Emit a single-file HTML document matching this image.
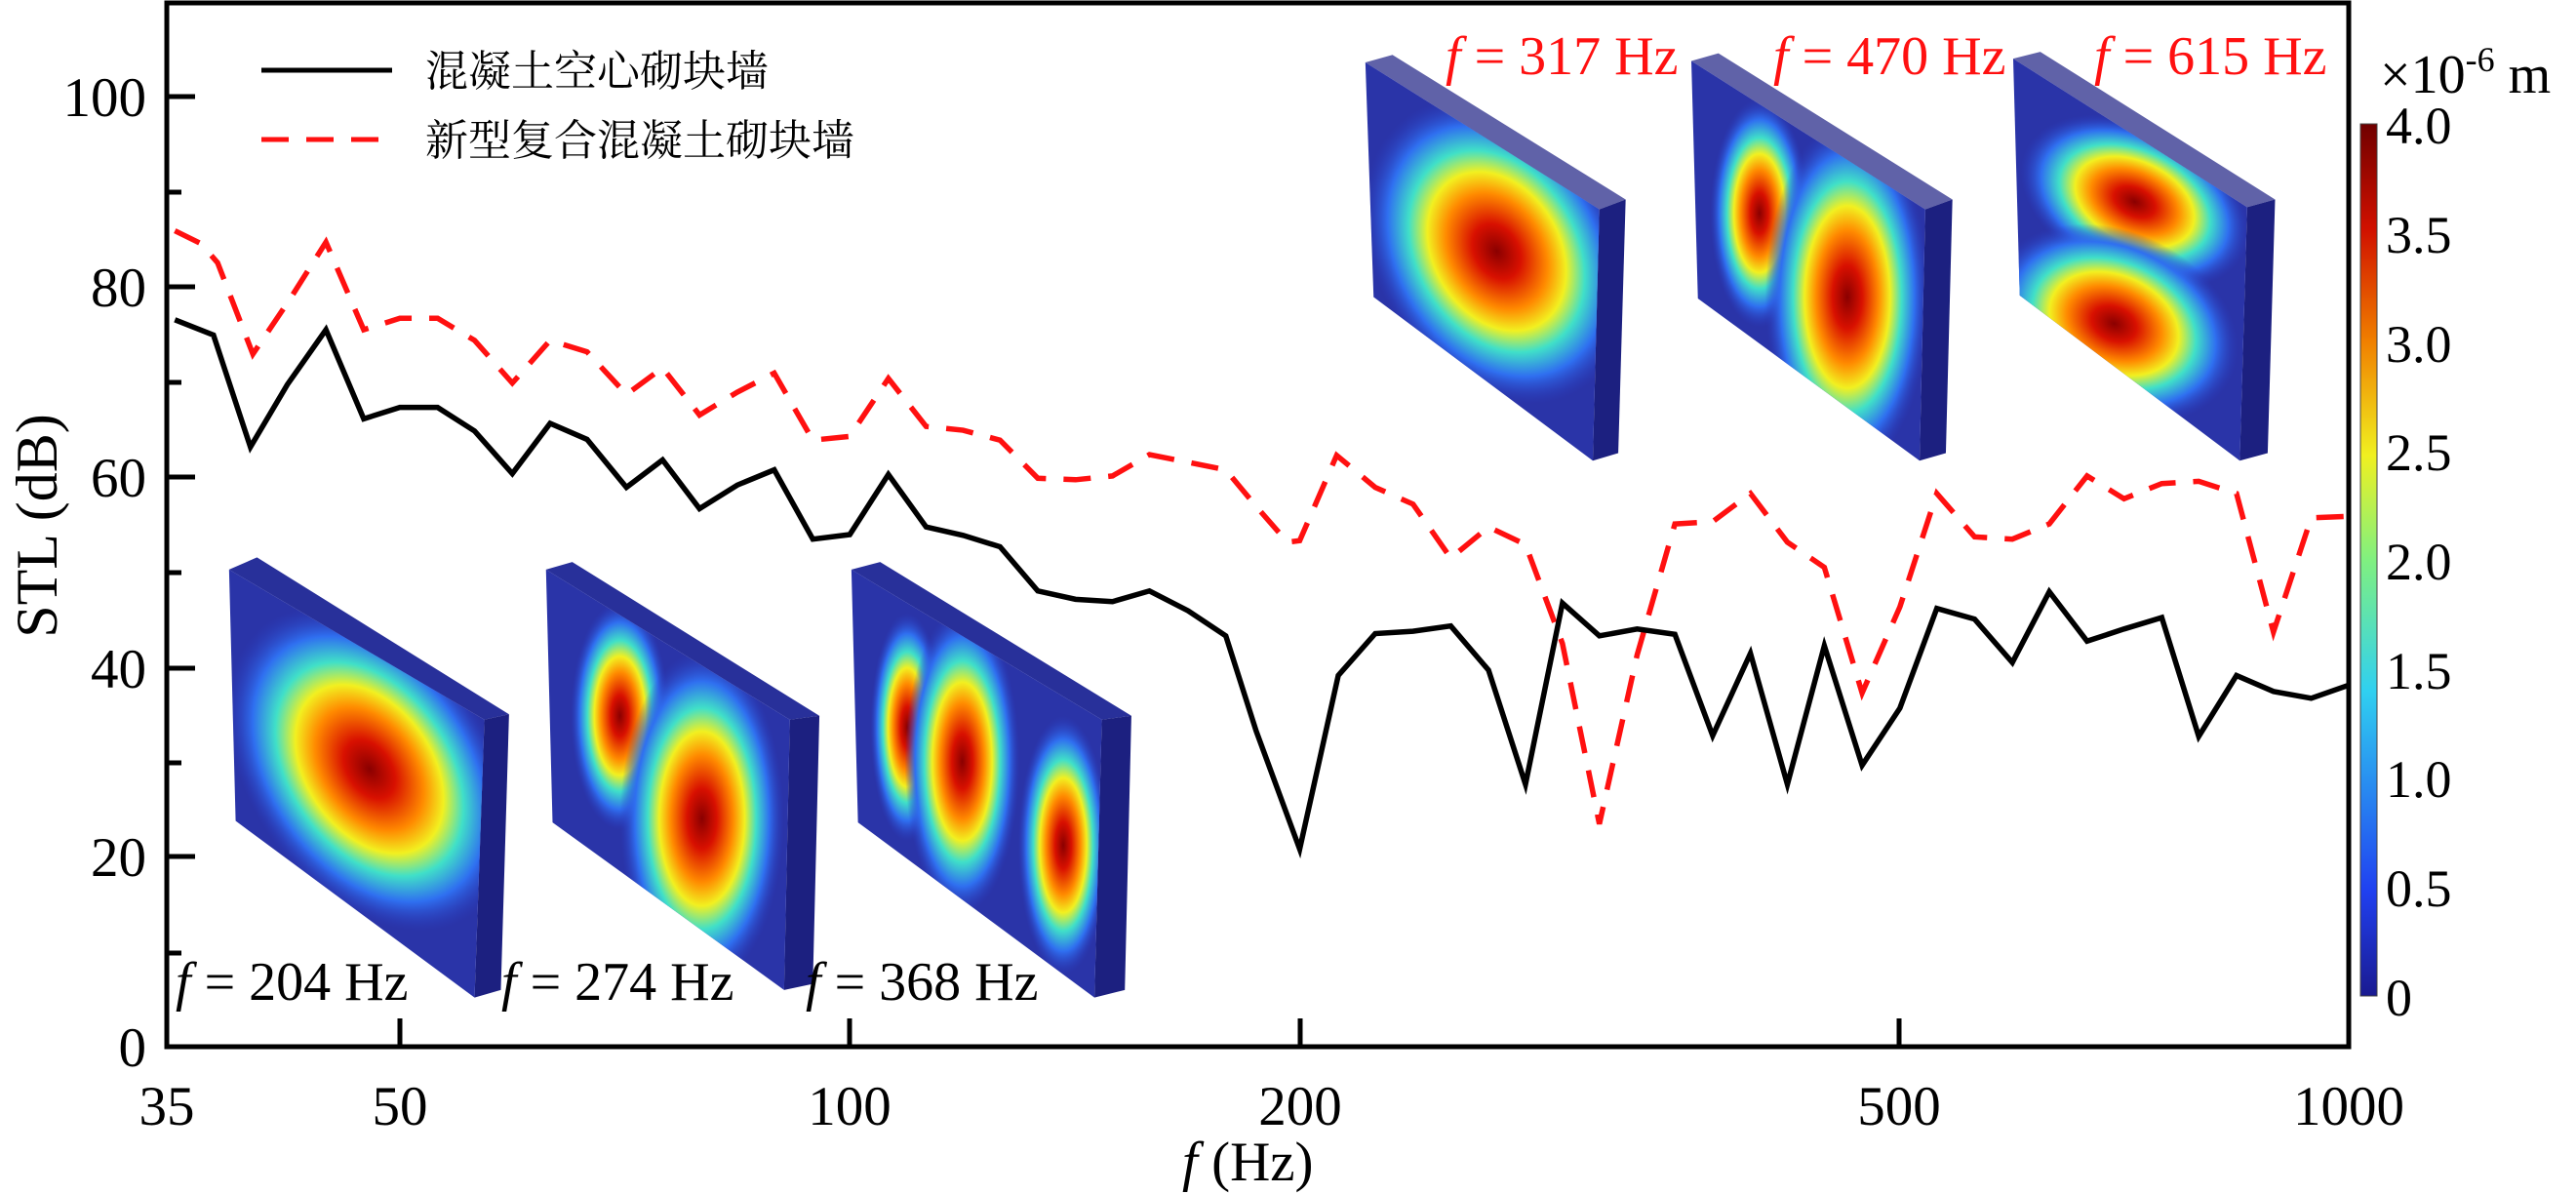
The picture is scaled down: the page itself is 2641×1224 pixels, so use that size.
<!DOCTYPE html>
<html><head><meta charset="utf-8"><style>
html,body{margin:0;padding:0;background:#fff;}
svg{display:block;}
text{font-family:"Liberation Serif","Noto Serif CJK SC",serif;}
.cn{font-family:"Liberation Serif","Noto Serif CJK SC","Noto Sans CJK SC",serif;}
</style></head><body>
<svg width="2641" height="1224" viewBox="0 0 2641 1224" xmlns="http://www.w3.org/2000/svg">
<defs>
<radialGradient id="jet">
<stop offset="0" stop-color="#8a0000"/>
<stop offset="0.18" stop-color="#d81000"/>
<stop offset="0.38" stop-color="#ff8a00"/>
<stop offset="0.52" stop-color="#f2f020"/>
<stop offset="0.66" stop-color="#40e0c8"/>
<stop offset="0.82" stop-color="#2f6ff0"/>
<stop offset="1" stop-color="#2a3cc0" stop-opacity="0"/>
</radialGradient>
<linearGradient id="cbar" x1="0" y1="1" x2="0" y2="0">
<stop offset="0" stop-color="#1a1a90"/>
<stop offset="0.12" stop-color="#2040f0"/>
<stop offset="0.35" stop-color="#30d0f0"/>
<stop offset="0.5" stop-color="#80f080"/>
<stop offset="0.62" stop-color="#f0f020"/>
<stop offset="0.75" stop-color="#f08000"/>
<stop offset="0.88" stop-color="#d01000"/>
<stop offset="1" stop-color="#700000"/>
</linearGradient>
<clipPath id="c1"><polygon points="279,748 590,945 578,1310 287,1078"/></clipPath>
<clipPath id="c2"><polygon points="665,748 962,945 955,1300 673,1080"/></clipPath>
<clipPath id="c3"><polygon points="1037,748 1342,945 1333,1310 1045,1080"/></clipPath>
<clipPath id="c4"><polygon points="1663,82 1948,275 1940,605 1673,390"/></clipPath>
<clipPath id="c5"><polygon points="2060,80 2345,275 2338,605 2068,392"/></clipPath>
<clipPath id="c6"><polygon points="2452,77 2737,272 2728,605 2460,388"/></clipPath>
</defs>

<g transform="scale(0.84175,0.78064)">
<polygon points="279,748 313,732 620,938 590,945" fill="#28309a"/>
<polygon points="590,945 620,938 610,1300 578,1310" fill="#1c2080"/>
<polygon points="279,748 590,945 578,1310 287,1078" fill="#2a34a8"/>
<g clip-path="url(#c1)"><ellipse cx="450" cy="1010" rx="150" ry="230" transform="rotate(-30 450 1010)" fill="url(#jet)"/></g>
<polygon points="665,748 697,738 998,940 962,945" fill="#28309a"/>
<polygon points="962,945 998,940 990,1292 955,1300" fill="#1c2080"/>
<polygon points="665,748 962,945 955,1300 673,1080" fill="#2a34a8"/>
<g clip-path="url(#c2)"><ellipse cx="755" cy="940" rx="60" ry="150" fill="url(#jet)"/><ellipse cx="855" cy="1075" rx="100" ry="220" fill="url(#jet)"/></g>
<polygon points="1037,748 1072,738 1378,940 1342,945" fill="#28309a"/>
<polygon points="1342,945 1378,940 1370,1300 1333,1310" fill="#1c2080"/>
<polygon points="1037,748 1342,945 1333,1310 1045,1080" fill="#2a34a8"/>
<g clip-path="url(#c3)"><ellipse cx="1105" cy="955" rx="45" ry="150" fill="url(#jet)"/><ellipse cx="1172" cy="1000" rx="70" ry="200" fill="url(#jet)"/><ellipse cx="1295" cy="1110" rx="55" ry="170" fill="url(#jet)"/></g>
<polygon points="1663,82 1696,72 1980,262 1948,275" fill="#6062a8"/>
<polygon points="1948,275 1980,262 1971,595 1940,605" fill="#1c2080"/>
<polygon points="1663,82 1948,275 1940,605 1673,390" fill="#2a34a8"/>
<g clip-path="url(#c4)"><ellipse cx="1823" cy="330" rx="150" ry="210" transform="rotate(-25 1823 330)" fill="url(#jet)"/></g>
<polygon points="2060,80 2093,70 2378,262 2345,275" fill="#6062a8"/>
<polygon points="2345,275 2378,262 2370,595 2338,605" fill="#1c2080"/>
<polygon points="2060,80 2345,275 2338,605 2068,392" fill="#2a34a8"/>
<g clip-path="url(#c5)"><ellipse cx="2143" cy="280" rx="60" ry="150" fill="url(#jet)"/><ellipse cx="2250" cy="390" rx="100" ry="230" fill="url(#jet)"/></g>
<polygon points="2452,77 2485,68 2771,262 2737,272" fill="#6062a8"/>
<polygon points="2737,272 2771,262 2762,595 2728,605" fill="#1c2080"/>
<polygon points="2452,77 2737,272 2728,605 2460,388" fill="#2a34a8"/>
<g clip-path="url(#c6)"><ellipse cx="2600" cy="265" rx="150" ry="100" transform="rotate(30 2600 265)" fill="url(#jet)"/><ellipse cx="2575" cy="425" rx="160" ry="120" transform="rotate(30 2575 425)" fill="url(#jet)"/></g>

<polyline fill="none" stroke="#ff1010" stroke-width="5.5" stroke-dasharray="28,18" vector-effect="non-scaling-stroke"
points="213,303 245,320 265,345 308,465 353,393 397,318 443,433 487,418 533,418 578,447 624,503 670,447 715,462 763,518 807,483 852,545 898,515 943,490 990,578 1035,573 1082,497 1128,560 1173,565 1218,578 1264,628 1310,630 1355,625 1400,597 1447,607 1493,617 1530,665 1568,712 1583,710 1628,598 1675,640 1721,662 1767,733 1813,692 1858,715 1903,845 1948,1082 1994,860 2040,688 2086,685 2132,648 2177,712 2222,745 2268,910 2314,797 2359,648 2405,705 2451,708 2496,688 2542,625 2587,655 2633,635 2678,632 2724,648 2769,830 2815,680 2860,678"/>
<polyline fill="none" stroke="#000" stroke-width="5.5" stroke-linejoin="miter" vector-effect="non-scaling-stroke"
points="213,420 260,440 305,587 350,505 397,433 443,550 487,535 533,535 578,566 624,622 670,556 715,577 763,640 807,604 852,668 898,637 943,617 990,708 1035,702 1082,623 1128,692 1173,703 1218,718 1264,776 1310,787 1355,790 1400,776 1447,802 1493,835 1530,960 1583,1115 1630,887 1675,832 1721,829 1767,822 1813,880 1858,1030 1903,792 1948,835 1994,826 2040,833 2086,966 2132,858 2177,1030 2222,848 2268,1005 2314,930 2359,799 2405,813 2451,870 2496,777 2542,842 2587,826 2633,811 2678,967 2724,887 2769,908 2815,917 2860,900"/>
</g>

<rect x="171" y="3" width="2237" height="1070" fill="none" stroke="#000" stroke-width="5"/>
<g stroke="#000" stroke-width="5">
<line x1="171" y1="878" x2="200" y2="878"/><line x1="171" y1="685" x2="200" y2="685"/>
<line x1="171" y1="489" x2="200" y2="489"/><line x1="171" y1="294" x2="200" y2="294"/>
<line x1="171" y1="99" x2="200" y2="99"/>
<line x1="171" y1="977" x2="186" y2="977"/><line x1="171" y1="782" x2="186" y2="782"/>
<line x1="171" y1="587" x2="186" y2="587"/><line x1="171" y1="392" x2="186" y2="392"/>
<line x1="171" y1="197" x2="186" y2="197"/>
<line x1="410" y1="1073" x2="410" y2="1044"/><line x1="871" y1="1073" x2="871" y2="1044"/>
<line x1="1333" y1="1073" x2="1333" y2="1044"/><line x1="1947" y1="1073" x2="1947" y2="1044"/>
</g>
<g font-size="57" text-anchor="end">
<text x="150" y="1093">0</text><text x="150" y="898">20</text><text x="150" y="705">40</text>
<text x="150" y="509">60</text><text x="150" y="314">80</text><text x="150" y="119">100</text>
</g>
<g font-size="57" text-anchor="middle">
<text x="171" y="1153">35</text><text x="410" y="1153">50</text><text x="871" y="1153">100</text>
<text x="1333" y="1153">200</text><text x="1947" y="1153">500</text><text x="2408" y="1153">1000</text>
</g>
<text x="1212" y="1210" font-size="57"><tspan font-style="italic">f</tspan> (Hz)</text>
<text transform="translate(58,539) rotate(-90)" font-size="60" text-anchor="middle">STL (dB)</text>

<line x1="268" y1="72" x2="402" y2="72" stroke="#000" stroke-width="5"/>
<line x1="268" y1="143" x2="402" y2="143" stroke="#ff1010" stroke-width="5" stroke-dasharray="28,18"/>
<text class="cn" x="436" y="88" font-size="44">混凝土空心砌块墙</text>
<text class="cn" x="436" y="159" font-size="44">新型复合混凝土砌块墙</text>

<g font-size="56">
<text x="180" y="1025"><tspan font-style="italic">f</tspan> = 204 Hz</text>
<text x="514" y="1025"><tspan font-style="italic">f</tspan> = 274 Hz</text>
<text x="826" y="1025"><tspan font-style="italic">f</tspan> = 368 Hz</text>
</g>
<g font-size="56" fill="#ff1010">
<text x="1482" y="76"><tspan font-style="italic">f</tspan> = 317 Hz</text>
<text x="1818" y="76"><tspan font-style="italic">f</tspan> = 470 Hz</text>
<text x="2147" y="76"><tspan font-style="italic">f</tspan> = 615 Hz</text>
</g>

<rect x="2420" y="127" width="17" height="894" fill="url(#cbar)" stroke="#444" stroke-width="1"/>
<g font-size="54">
<text x="2446" y="147">4.0</text><text x="2446" y="259">3.5</text><text x="2446" y="371">3.0</text>
<text x="2446" y="482">2.5</text><text x="2446" y="594">2.0</text><text x="2446" y="706">1.5</text>
<text x="2446" y="817">1.0</text><text x="2446" y="929">0.5</text><text x="2446" y="1041">0</text>
</g>
<text x="2440" y="95" font-size="56">×10<tspan font-size="36" dy="-22">-6</tspan><tspan dy="22"> m</tspan></text>
</svg>
</body></html>
